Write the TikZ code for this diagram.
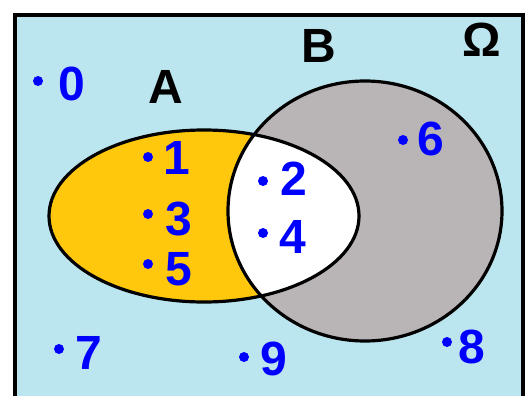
\documentclass[tikz,border=0pt]{standalone}
\usepackage{fontspec}
\setmainfont{Liberation Sans}
\definecolor{bgblue}{RGB}{188,230,239}
\definecolor{setA}{RGB}{255,200,12}
\definecolor{setB}{RGB}{185,180,182}
\definecolor{numblue}{RGB}{0,0,255}
\begin{document}
\begin{tikzpicture}[x=1pt,y=-1pt,
  num/.style={text=numblue,font=\fontsize{48}{50}\selectfont\bfseries,inner sep=0pt,anchor=base west},
  setlabel/.style={text=black,font=\fontsize{48}{50}\selectfont\bfseries,inner sep=0pt,anchor=base west},
  dot/.style={circle,fill=numblue,inner sep=0pt,minimum size=10pt},
  outline/.style={line width=3.2pt,draw=black}]
\useasboundingbox (0,0) rectangle (525,396);
\clip (0,0) rectangle (525,396);
% universe frame
\draw[line width=4pt,fill=bgblue] (15,15) rectangle (522.5,430);
% sets
\fill[setA] (204,216) ellipse [x radius=155, y radius=86];
\fill[setB] (365,211) ellipse [x radius=137, y radius=130];
\begin{scope}
  \clip (204,216) ellipse [x radius=155, y radius=86];
  \fill[white] (365,211) ellipse [x radius=137, y radius=130];
\end{scope}
\draw[outline] (204,216) ellipse [x radius=155, y radius=86];
\draw[outline] (365,211) ellipse [x radius=137, y radius=130];
% labels
\node[setlabel] (lA) at (148,103) {A};
\node[setlabel] (lB) at (301.5,63) {B};
\node[setlabel] (lO) at (462,57) {Ω};
% elements
\node[dot] (d0) at (38,81) {};   \node[num] (n0) at (58,100) {0};
\node[dot] (d1) at (148,157) {}; \node[num] (n1) at (163,174) {1};
\node[dot] (d3) at (148,214) {}; \node[num] (n3) at (165,235) {3};
\node[dot] (d5) at (148,264) {}; \node[num] (n5) at (165,285) {5};
\node[dot] (d2) at (263,181) {}; \node[num] (n2) at (280,195) {2};
\node[dot] (d4) at (263,233) {}; \node[num] (n4) at (279,253) {4};
\node[dot] (d6) at (403,140) {}; \node[num] (n6) at (417,155) {6};
\node[dot] (d7) at (59,349) {};  \node[num] (n7) at (75,369) {7};
\node[dot] (d9) at (244,357) {}; \node[num] (n9) at (260,375) {9};
\node[dot] (d8) at (447,342) {}; \node[num] (n8) at (458,363) {8};
\end{tikzpicture}
\end{document}
